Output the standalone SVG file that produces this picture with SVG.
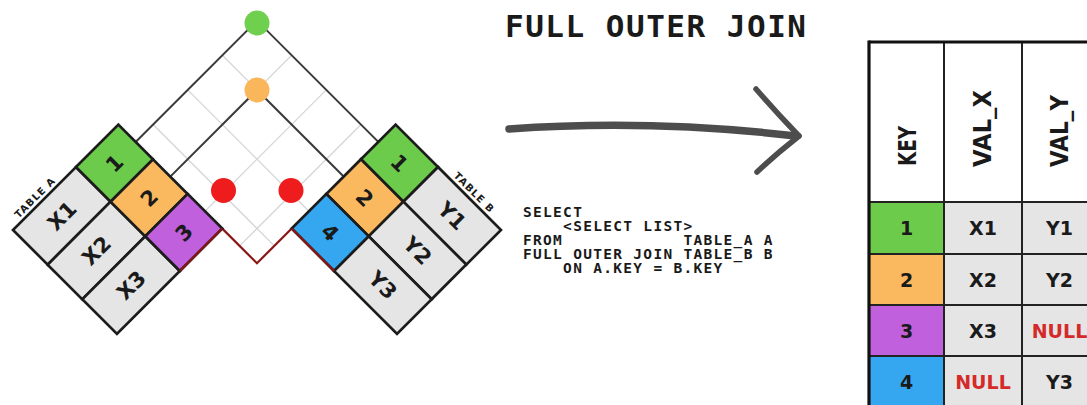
<svg xmlns="http://www.w3.org/2000/svg" width="1087" height="405" viewBox="0 0 1087 405">
<style>
.cell{stroke:#1c1c1c;stroke-width:2.7;stroke-linejoin:miter}
.g{fill:#6ccb4b}.o{fill:#fab95f}.p{fill:#c060dc}.b{fill:#35a7f0}.v{fill:#e5e5e5}.w{fill:#ffffff}
.t{font-family:"DejaVu Sans",sans-serif;font-weight:bold;text-anchor:middle;fill:#1a1a1a}
.grid{stroke:#d6d6d6;stroke-width:1.3;fill:none}
.blk{stroke:#3a3a3a;stroke-width:2;fill:none}
.red{stroke:#8a1616;stroke-width:2.2;fill:none}
.mono{font-family:"DejaVu Sans Mono","Liberation Mono",monospace;font-weight:bold;fill:#1a1a1a}
.sq{font-size:14.5px;letter-spacing:1.3px}
.ln{stroke:#222;stroke-width:2;fill:none}
.lnb{stroke:#111;stroke-width:3.2;fill:none}
.null{fill:#d42a2a}
</style>
<rect width="1087" height="405" fill="#ffffff"/>

<g id="connectors">
  <line class="grid" x1="170.3" y1="176.6" x2="291.65" y2="55.25"/>
  <line class="grid" x1="204.95" y1="211.25" x2="326.3" y2="89.9"/>
  <line class="grid" x1="239.6" y1="245.9" x2="360.95" y2="124.55"/>
  <line class="grid" x1="222.35" y1="55.25" x2="343.65" y2="176.55"/>
  <line class="grid" x1="187.7" y1="89.9" x2="309" y2="211.2"/>
  <line class="grid" x1="153.05" y1="124.55" x2="274.35" y2="245.85"/>
  <line class="blk" x1="135.65" y1="141.95" x2="257" y2="20.6"/>
  <line class="blk" x1="257" y1="20.6" x2="378.3" y2="141.9"/>
  <line class="blk" x1="170.3" y1="176.6" x2="257" y2="90"/>
  <line class="blk" x1="257" y1="90" x2="343.65" y2="176.55"/>
  <polyline class="red" points="222.3,228.6 256.95,263.25 291.7,228.5"/>
</g>

<g id="table-a" transform="translate(13,230) rotate(-45)">
  <rect class="cell v" x="0" y="0" width="89" height="49"/>
  <rect class="cell v" x="0" y="49" width="89" height="49"/>
  <rect class="cell v" x="0" y="98" width="89" height="49"/>
  <rect class="cell g" x="89" y="0" width="60" height="49"/>
  <rect class="cell o" x="89" y="49" width="60" height="49"/>
  <rect class="cell p" x="89" y="98" width="60" height="49"/>
  <line class="red" x1="89" y1="147" x2="149" y2="147"/>
  <text class="t" x="44.5" y="32" font-size="21">X1</text>
  <text class="t" x="44.5" y="81" font-size="21">X2</text>
  <text class="t" x="44.5" y="130" font-size="21">X3</text>
  <text class="t" x="119" y="32" font-size="21">1</text>
  <text class="t" x="119" y="81" font-size="21">2</text>
  <text class="t" x="119" y="130" font-size="21" fill="#3a1456">3</text>
  <text class="t" x="38.5" y="-4" font-size="10" letter-spacing="1">TABLE A</text>
</g>

<g id="table-b" transform="translate(395.6,124.6) rotate(45)">
  <rect class="cell g" x="0" y="0" width="60" height="49"/>
  <rect class="cell o" x="0" y="49" width="60" height="49"/>
  <rect class="cell b" x="0" y="98" width="60" height="49"/>
  <rect class="cell v" x="60" y="0" width="89" height="49"/>
  <rect class="cell v" x="60" y="49" width="89" height="49"/>
  <rect class="cell v" x="60" y="98" width="89" height="49"/>
  <line class="red" x1="0" y1="147" x2="60" y2="147"/>
  <text class="t" x="30" y="32" font-size="21">1</text>
  <text class="t" x="30" y="81" font-size="21">2</text>
  <text class="t" x="30" y="130" font-size="21" fill="#0f2a55">4</text>
  <text class="t" x="104.5" y="32" font-size="21">Y1</text>
  <text class="t" x="104.5" y="81" font-size="21">Y2</text>
  <text class="t" x="104.5" y="130" font-size="21">Y3</text>
  <text class="t" x="103.5" y="-4" font-size="10" letter-spacing="1">TABLE B</text>
</g>

<g id="dots">
  <circle cx="257" cy="23" r="12.5" fill="#6fcf4e"/>
  <circle cx="257" cy="90" r="12.5" fill="#f9b65a"/>
  <circle cx="223.5" cy="190.5" r="12.5" fill="#ee1c1c"/>
  <circle cx="291" cy="190.5" r="12.5" fill="#ee1c1c"/>
</g>

<g id="title">
  <text class="mono" x="505" y="37" font-size="31" letter-spacing="1.5">FULL OUTER JOIN</text>
</g>

<g id="arrow" fill="none" stroke="#4d4d4d" stroke-linecap="round">
  <path d="M509,129 Q650,119 796,136" stroke-width="7.5"/>
  <path d="M756,89 Q777,113 799,136" stroke-width="5.5"/>
  <path d="M799,136 Q776,154 757,172" stroke-width="5.5"/>
</g>

<g id="sql">
  <text class="mono sq" x="523" y="217" xml:space="preserve">SELECT</text>
  <text class="mono sq" x="523" y="231" xml:space="preserve">    &lt;SELECT LIST&gt;</text>
  <text class="mono sq" x="523" y="245" xml:space="preserve">FROM            TABLE_A A</text>
  <text class="mono sq" x="523" y="259" xml:space="preserve">FULL OUTER JOIN TABLE_B B</text>
  <text class="mono sq" x="523" y="273" xml:space="preserve">    ON A.KEY = B.KEY</text>
</g>

<g id="result-table">
  <rect x="869" y="42" width="240" height="160" fill="#ffffff"/>
  <rect x="869" y="202" width="75" height="52" class="g"/>
  <rect x="869" y="254" width="75" height="51" class="o"/>
  <rect x="869" y="305" width="75" height="51" class="p"/>
  <rect x="869" y="356" width="75" height="55" class="b"/>
  <rect x="944" y="202" width="160" height="209" class="v"/>
  <line class="ln" x1="944" y1="42" x2="944" y2="410"/>
  <line class="ln" x1="1022" y1="42" x2="1022" y2="410"/>
  <line class="ln" x1="869" y1="202" x2="1090" y2="202"/>
  <line class="ln" x1="869" y1="254" x2="1090" y2="254"/>
  <line class="ln" x1="869" y1="305" x2="1090" y2="305"/>
  <line class="ln" x1="869" y1="356" x2="1090" y2="356"/>
  <line class="lnb" x1="869" y1="42" x2="1090" y2="42"/>
  <line class="lnb" x1="869" y1="40.4" x2="869" y2="410"/>
  <text class="t" font-size="24" transform="translate(915.5,166) rotate(-90)" textLength="40" lengthAdjust="spacingAndGlyphs" style="text-anchor:start">KEY</text>
  <text class="t" font-size="24" transform="translate(991,167) rotate(-90)" textLength="77" lengthAdjust="spacingAndGlyphs" style="text-anchor:start">VAL_X</text>
  <text class="t" font-size="24" transform="translate(1067.5,167) rotate(-90)" textLength="72" lengthAdjust="spacingAndGlyphs" style="text-anchor:start">VAL_Y</text>
  <text class="t" x="906.5" y="235" font-size="19" fill="#1d3514">1</text>
  <text class="t" x="983" y="235" font-size="19">X1</text>
  <text class="t" x="1059.5" y="235" font-size="19">Y1</text>
  <text class="t" x="906.5" y="286.5" font-size="19">2</text>
  <text class="t" x="983" y="286.5" font-size="19">X2</text>
  <text class="t" x="1059.5" y="286.5" font-size="19">Y2</text>
  <text class="t" x="906.5" y="337.5" font-size="19" fill="#3a1456">3</text>
  <text class="t" x="983" y="337.5" font-size="19">X3</text>
  <text class="t null" x="1059.5" y="337.5" font-size="19">NULL</text>
  <text class="t" x="906.5" y="388.5" font-size="19" fill="#0f2a55">4</text>
  <text class="t null" x="983" y="388.5" font-size="19">NULL</text>
  <text class="t" x="1059.5" y="388.5" font-size="19">Y3</text>
</g>
</svg>
